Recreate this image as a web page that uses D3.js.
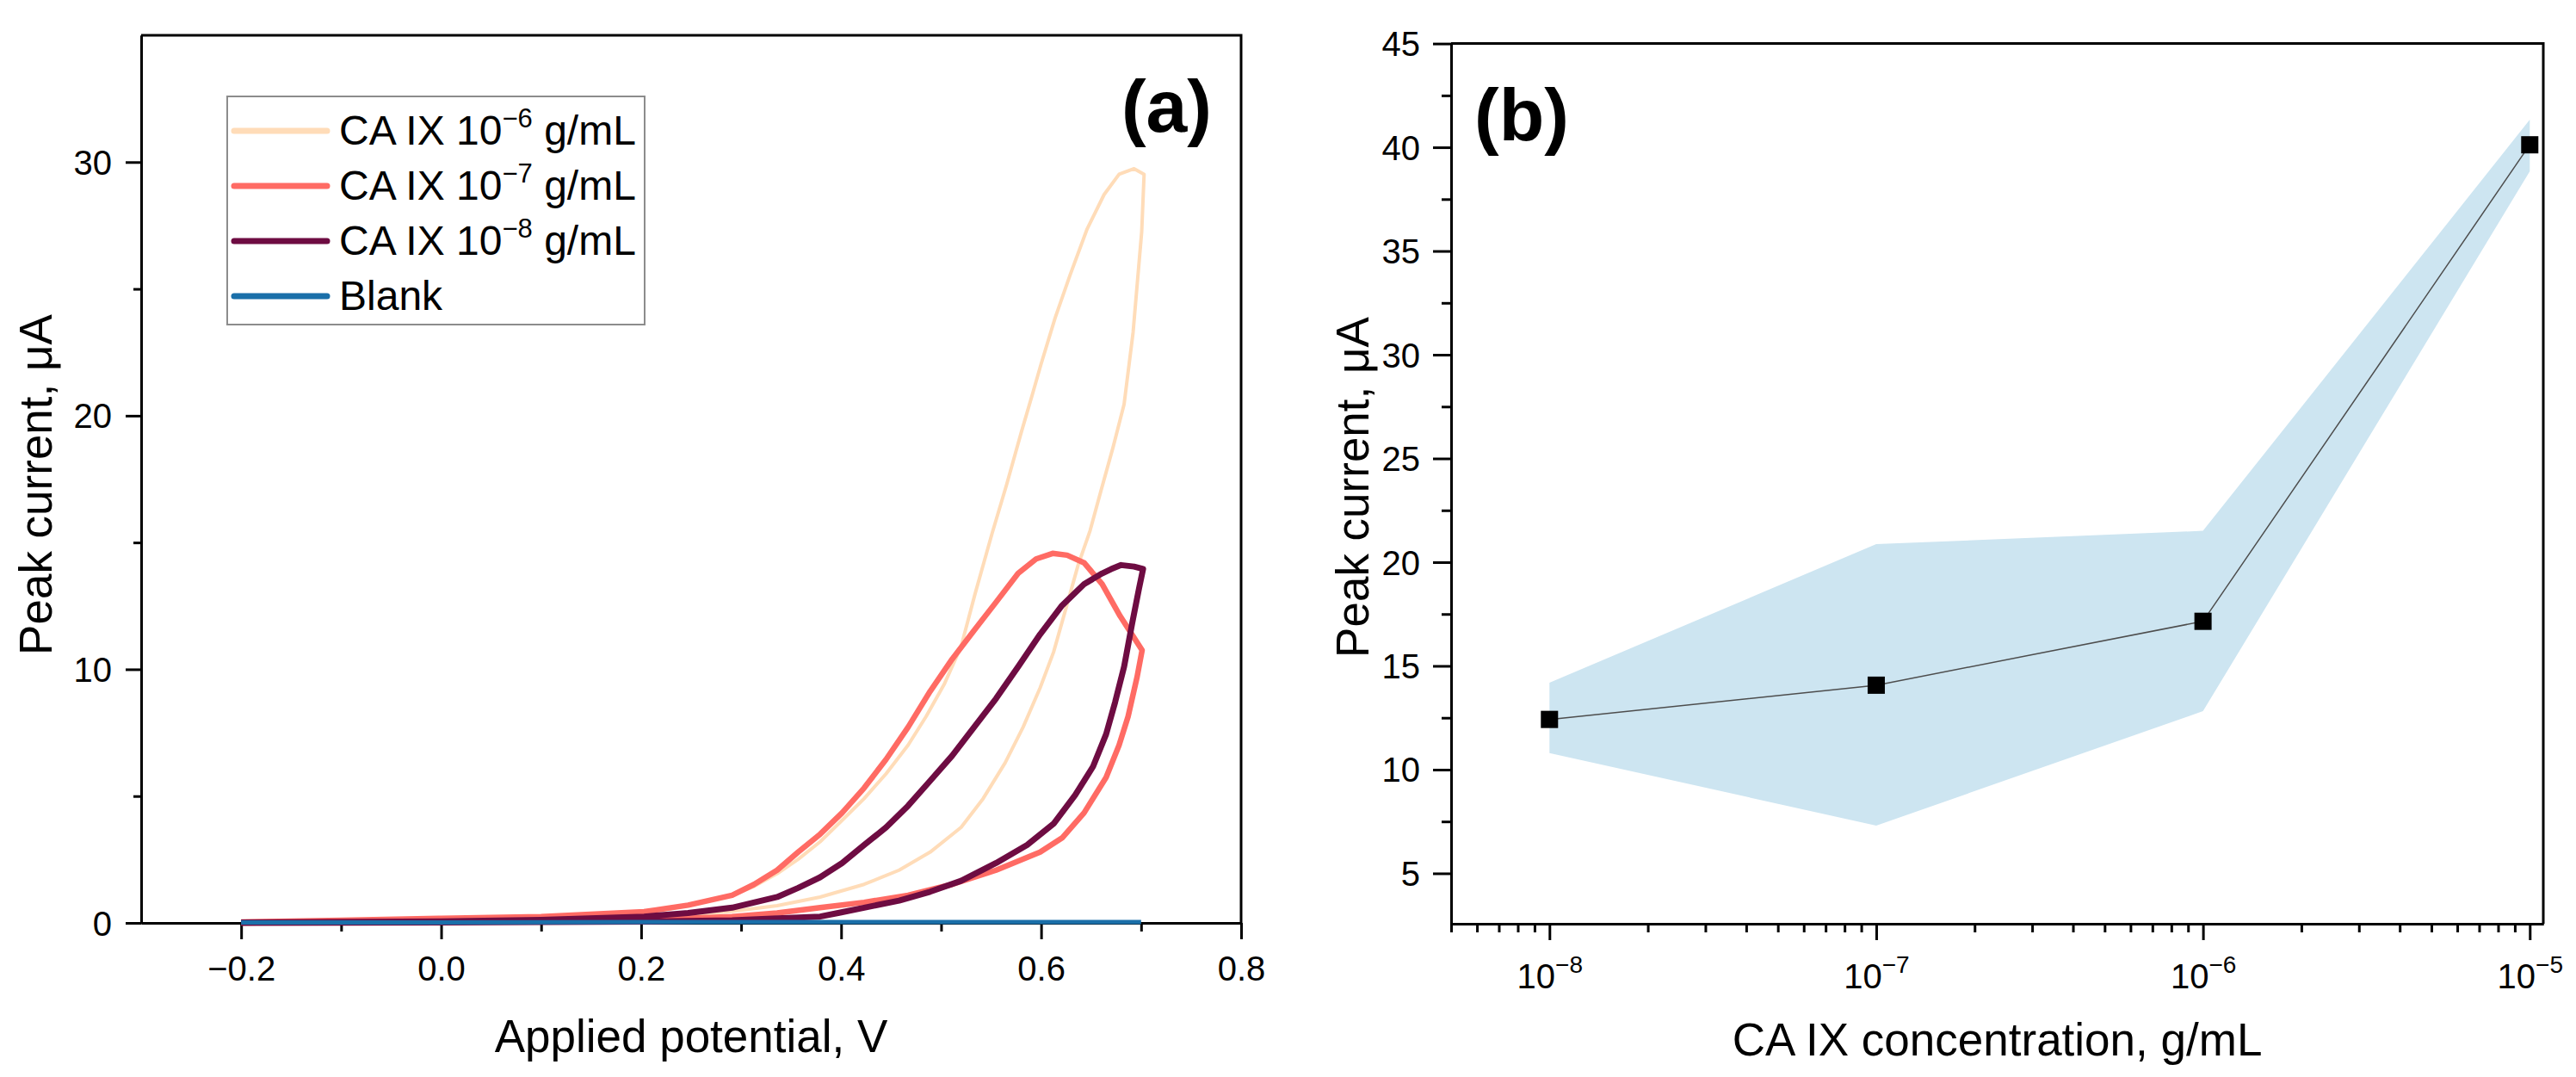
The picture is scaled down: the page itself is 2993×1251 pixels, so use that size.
<!DOCTYPE html>
<html>
<head>
<meta charset="utf-8">
<script src="https://cdn.jsdelivr.net/npm/d3@7"></script>
<style>
body { margin: 0; background: #fff; }
text { font-family: "Liberation Sans", Arial, sans-serif; fill: #000; }
</style>
</head>
<body>
<div id="chart"></div>
<script>
// ---- panel (a): cyclic voltammograms ----
const potentialTicks = [-0.2, 0.0, 0.2, 0.4, 0.6, 0.8];
const potentialMinor = [-0.1, 0.1, 0.3, 0.5, 0.7];
const currentTicksA = [0, 10, 20, 30];
const currentMinorA = [5, 15, 25];

const seriesNames = ["CA IX 10", "CA IX 10", "CA IX 10", "Blank"];
const seriesExponents = ["\u22126", "\u22127", "\u22128", ""];
const seriesUnits = [" g/mL", " g/mL", " g/mL", ""];

// 10^-6 g/mL : forward branch then reverse branch
const potential6 = [-0.2, -0.1, 0.0, 0.1, 0.203, 0.25, 0.291, 0.336, 0.379, 0.423, 0.458, 0.489, 0.52, 0.542, 0.564, 0.582, 0.599, 0.6125, 0.629, 0.637, 0.649, 0.66, 0.672, 0.683, 0.692, 0.7006, 0.703,
  0.693, 0.678, 0.663, 0.646, 0.629, 0.614, 0.6, 0.591, 0.58, 0.5655, 0.551, 0.534, 0.52, 0.503, 0.485, 0.467, 0.445, 0.423, 0.401, 0.379, 0.357, 0.336, 0.313, 0.291, 0.247, 0.203, 0.1, 0.0, -0.1, -0.2];
const current6 = [0.0, 0.02, 0.05, 0.1, 0.22, 0.33, 0.46, 0.68, 1.02, 1.52, 2.08, 2.79, 3.77, 4.9, 6.31, 7.72, 9.27, 10.68, 12.98, 14.11, 15.47, 17.06, 18.76, 20.45, 23.29, 27.25, 29.52,
  29.74, 29.52, 28.72, 27.36, 25.55, 23.85, 22.04, 20.8, 19.32, 17.28, 15.36, 12.98, 10.9, 9.4, 8.14, 7.01, 5.88, 4.9, 4.05, 3.2, 2.51, 1.94, 1.44, 1.09, 0.68, 0.39, 0.2, 0.1, 0.05, 0.02];

// 10^-7 g/mL
const potential7 = [-0.2, -0.1, 0.0, 0.1, 0.203, 0.291, 0.336, 0.379, 0.423, 0.467, 0.511, 0.555, 0.599, 0.621, 0.643, 0.665, 0.678, 0.687, 0.696, 0.701,
  0.679, 0.661, 0.643, 0.626, 0.6115, 0.595, 0.577, 0.555, 0.533, 0.511, 0.489, 0.467, 0.445, 0.423, 0.401, 0.379, 0.357, 0.336, 0.313, 0.291, 0.247, 0.203, 0.1, 0.0, -0.1, -0.2];
const current7 = [0.0, 0.05, 0.08, 0.1, 0.12, 0.25, 0.39, 0.6, 0.81, 1.09, 1.52, 2.08, 2.79, 3.35, 4.34, 5.74, 7.01, 8.14, 9.7, 10.75,
  12.1, 13.36, 14.2, 14.5, 14.57, 14.35, 13.78, 12.65, 11.53, 10.4, 9.13, 7.72, 6.45, 5.32, 4.34, 3.5, 2.79, 2.08, 1.52, 1.09, 0.7, 0.44, 0.25, 0.18, 0.1, 0.03];

// 10^-8 g/mL
const potential8 = [-0.2, 0.0, 0.2, 0.291, 0.336, 0.379, 0.397, 0.423, 0.458, 0.489, 0.52, 0.555, 0.586, 0.6125, 0.634, 0.652, 0.665, 0.674, 0.683, 0.691, 0.698, 0.702,
  0.693, 0.68, 0.67, 0.661, 0.643, 0.621, 0.599, 0.577, 0.555, 0.533, 0.511, 0.489, 0.467, 0.445, 0.423, 0.401, 0.379, 0.357, 0.336, 0.291, 0.247, 0.203, 0.1, 0.0, -0.2];
const current8 = [0.0, 0.02, 0.05, 0.1, 0.18, 0.25, 0.39, 0.6, 0.88, 1.23, 1.66, 2.36, 3.07, 3.91, 5.04, 6.17, 7.44, 8.7, 10.1, 11.8, 13.2, 13.96,
  14.05, 14.11, 13.95, 13.78, 13.36, 12.52, 11.38, 10.1, 8.85, 7.72, 6.59, 5.6, 4.62, 3.77, 3.07, 2.36, 1.8, 1.38, 1.02, 0.6, 0.39, 0.25, 0.12, 0.06, 0.02];

// blank
const potentialBlank = [-0.2, 0.0, 0.2, 0.4, 0.6, 0.7];
const currentBlank = [0.02, 0.02, 0.03, 0.03, 0.03, 0.03];

// ---- panel (b): peak current vs concentration ----
const concentrations = [1e-8, 1e-7, 1e-6, 1e-5];
const peakCurrents = [12.42, 14.07, 17.15, 40.12];
const bandLower = [10.8, 7.3, 12.82, 38.84];
const bandUpper = [14.19, 20.87, 21.51, 41.33];
const currentTicksB = [5, 10, 15, 20, 25, 30, 35, 40, 45];
const currentMinorB = [7.5, 12.5, 17.5, 22.5, 27.5, 32.5, 37.5, 42.5];
const concTicks = [1e-8, 1e-7, 1e-6, 1e-5];

const W = 2993, H = 1251;
const seriesColors = ["#ffdcb8", "#ff6b64", "#6e0c42", "#1a6fa9"];
const seriesWidths = [4, 6.5, 7, 5];

const svg = d3.select("#chart").append("svg")
    .attr("width", W)
    .attr("height", H)
    .style("background-color", "white");

// ===== panel (a) =====
const xA = d3.scaleLinear([-0.3, 0.8], [164, 1442]);
const yA = d3.scaleLinear([0, 35], [1072, 41]);

const seriesData = [
    d3.zip(potential6, current6),
    d3.zip(potential7, current7),
    d3.zip(potential8, current8),
    d3.zip(potentialBlank, currentBlank)
];

// frame
svg.append("path")
    .attr("d", `M${xA.range()[0]},${yA.range()[1]}H${xA.range()[1]}V${yA.range()[0]}`)
    .attr("fill", "none").attr("stroke", "#000").attr("stroke-width", 3);

let gxA = svg.append("g").attr("transform", `translate(0, ${yA(0)})`);
gxA.call(d3.axisBottom(xA).tickValues(potentialMinor).tickSize(10).tickSizeOuter(0).tickFormat(""));
gxA.append("g").call(d3.axisBottom(xA).tickValues(potentialTicks).tickSize(19).tickSizeOuter(0).tickFormat(d3.format(".1f")))
    .selectAll("text")
    .attr("y", 67).attr("dy", 0)
    .attr("font-size", 40).attr("font-family", "Liberation Sans, Arial, sans-serif").attr("fill", "#000");

let gyA = svg.append("g").attr("transform", `translate(${xA(-0.3)}, 0)`);
gyA.call(d3.axisLeft(yA).tickValues(currentMinorA).tickSize(9).tickSizeOuter(0).tickFormat(""));
gyA.append("g").call(d3.axisLeft(yA).tickValues(currentTicksA).tickSize(18).tickSizeOuter(0))
    .selectAll("text")
    .attr("x", -34).attr("dy", "0.35em")
    .attr("font-size", 40).attr("font-family", "Liberation Sans, Arial, sans-serif").attr("fill", "#000");

let lineA = d3.line().x(d => xA(d[0])).y(d => yA(d[1]));

svg.append("g")
    .selectAll("path")
    .data(seriesData)
    .enter()
    .append("path")
    .attr("d", d => lineA(d))
    .attr("fill", "none")
    .attr("stroke", (d, i) => seriesColors[i])
    .attr("stroke-width", (d, i) => seriesWidths[i])
    .attr("stroke-linejoin", "round");

svg.append("text")
    .attr("x", (xA.range()[0] + xA.range()[1]) / 2)
    .attr("y", 1222)
    .attr("text-anchor", "middle")
    .attr("font-size", 53)
    .text("Applied potential, V");

svg.append("text")
    .attr("transform", `translate(60, 563) rotate(-90)`)
    .attr("text-anchor", "middle")
    .attr("font-size", 53)
    .text("Peak current, \u03bcA");

svg.append("text")
    .attr("x", 1408).attr("y", 153)
    .attr("text-anchor", "end")
    .attr("font-family", "Roboto, sans-serif")
    .attr("font-weight", "bold")
    .attr("font-size", 86)
    .text("(a)");

// legend
let legend = svg.append("g");
legend.append("rect")
    .attr("x", 264).attr("y", 112).attr("width", 485).attr("height", 265)
    .attr("fill", "white").attr("stroke", "#8c8c8c").attr("stroke-width", 2);

let rows = legend.selectAll("g.row")
    .data(seriesNames)
    .enter()
    .append("g")
    .attr("class", "row")
    .attr("transform", (d, i) => `translate(0, ${152 + i * 64})`);

rows.append("line")
    .attr("x1", 272).attr("x2", 380)
    .attr("stroke", (d, i) => seriesColors[i])
    .attr("stroke-width", 7)
    .attr("stroke-linecap", "round");

let rowText = rows.append("text")
    .attr("x", 394).attr("y", 16)
    .attr("font-size", 48);
rowText.append("tspan").text(d => d);
rowText.append("tspan")
    .attr("font-size", 31)
    .attr("dy", -20)
    .text((d, i) => seriesExponents[i]);
rowText.append("tspan")
    .attr("dy", (d, i) => seriesExponents[i] ? 20 : 0)
    .text((d, i) => seriesUnits[i]);

// ===== panel (b) =====
const xB = d3.scaleLog([5e-9, 1.1e-5], [1686, 2955]);
const yB = d3.scaleLinear([2.57, 45], [1073, 50.6]);

const pointsB = concentrations.map((c, i) => ({c: c, v: peakCurrents[i], lo: bandLower[i], hi: bandUpper[i]}));

svg.append("path")
    .datum(pointsB)
    .attr("d", d3.area().x(d => xB(d.c)).y0(d => yB(d.lo)).y1(d => yB(d.hi)))
    .attr("fill", "#cde5f1");

svg.append("path")
    .datum(pointsB)
    .attr("d", d3.line().x(d => xB(d.c)).y(d => yB(d.v)))
    .attr("fill", "none")
    .attr("stroke", "#4d4d4d")
    .attr("stroke-width", 1.5);

svg.append("g")
    .selectAll("rect")
    .data(pointsB)
    .enter()
    .append("rect")
    .attr("x", d => xB(d.c) - 10)
    .attr("y", d => yB(d.v) - 10)
    .attr("width", 20)
    .attr("height", 20)
    .attr("fill", "#000");

svg.append("path")
    .attr("d", `M${xB.range()[0]},${yB.range()[1]}H${xB.range()[1]}V${yB.range()[0]}`)
    .attr("fill", "none").attr("stroke", "#000").attr("stroke-width", 3);

let concMinor = [];
for (let e = -9; e <= -6; e++) {
    for (let m = 2; m <= 9; m++) {
        let v = m * Math.pow(10, e);
        if (v >= 5e-9 && v <= 1.1e-5) concMinor.push(v);
    }
}

let gxB = svg.append("g").attr("transform", `translate(0, ${yB.range()[0]})`);
gxB.call(d3.axisBottom(xB).tickValues(concMinor).tickSize(10).tickSizeOuter(0).tickFormat(""));
gxB.append("g").call(d3.axisBottom(xB).tickValues(concTicks).tickSize(19).tickSizeOuter(0).tickFormat(""))
    .selectAll(".tick")
    .append("text")
    .attr("y", 75)
    .attr("text-anchor", "middle")
    .attr("font-size", 40)
    .attr("font-family", "Liberation Sans, Arial, sans-serif")
    .attr("fill", "#000")
    .each(function (d) {
        let t = d3.select(this);
        t.append("tspan").text("10");
        t.append("tspan").attr("font-size", 28).attr("dy", -18)
            .text("\u2212" + Math.abs(Math.round(Math.log10(d))));
    });

let gyB = svg.append("g").attr("transform", `translate(${xB.range()[0]}, 0)`);
gyB.call(d3.axisLeft(yB).tickValues(currentMinorB).tickSize(11).tickSizeOuter(0).tickFormat(""));
gyB.append("g").call(d3.axisLeft(yB).tickValues(currentTicksB).tickSize(21).tickSizeOuter(0))
    .selectAll("text")
    .attr("x", -36).attr("dy", "0.35em")
    .attr("font-size", 40).attr("font-family", "Liberation Sans, Arial, sans-serif").attr("fill", "#000");

svg.append("text")
    .attr("x", (xB.range()[0] + xB.range()[1]) / 2)
    .attr("y", 1226)
    .attr("text-anchor", "middle")
    .attr("font-size", 53)
    .text("CA IX concentration, g/mL");

svg.append("text")
    .attr("transform", `translate(1590, 566) rotate(-90)`)
    .attr("text-anchor", "middle")
    .attr("font-size", 53)
    .text("Peak current, \u03bcA");

svg.append("text")
    .attr("x", 1713).attr("y", 163)
    .attr("font-family", "Roboto, sans-serif")
    .attr("font-weight", "bold")
    .attr("font-size", 86)
    .text("(b)");

svg.selectAll(".domain, .tick line")
    .attr("stroke", "#000")
    .attr("stroke-width", 3);
</script>
</body>
</html>
